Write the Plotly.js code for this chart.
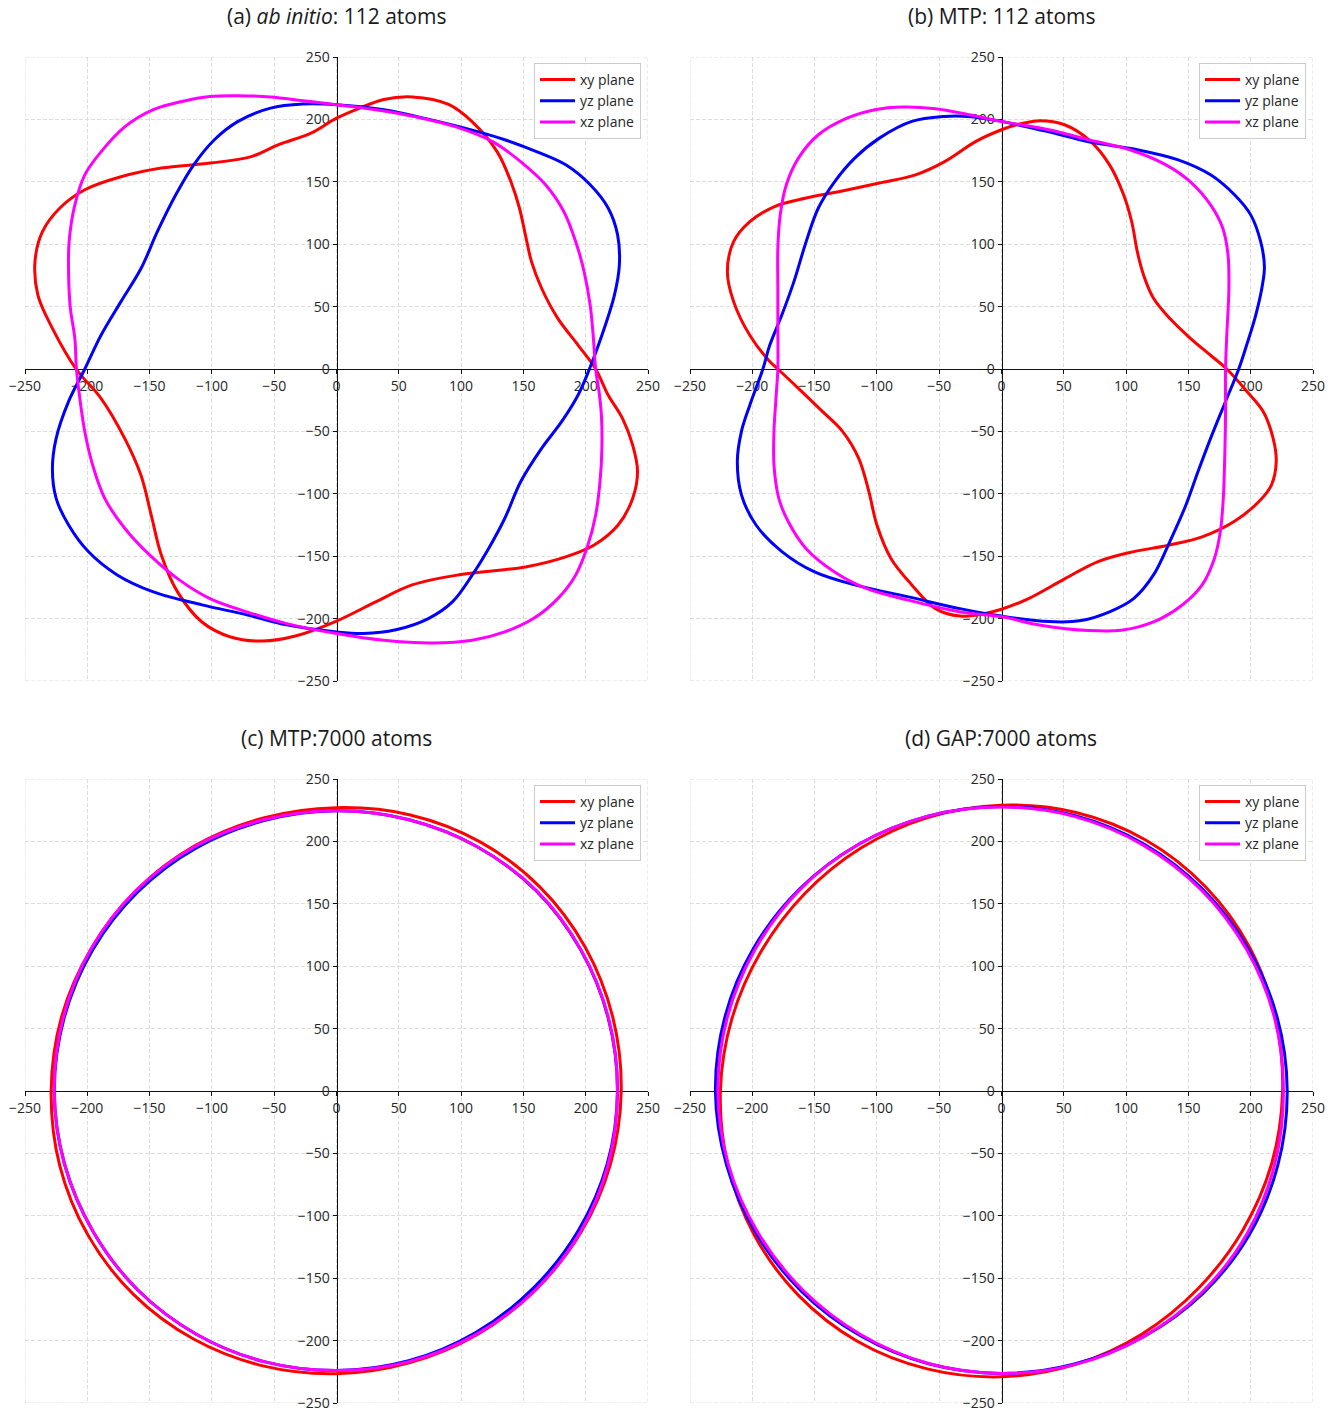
<!DOCTYPE html>
<html>
<head>
<meta charset="utf-8">
<script src="https://cdn.plot.ly/plotly-3.0.1.min.js"></script>
<style>
  html, body { margin: 0; padding: 0; background: #ffffff; }
  #chart { width: 1343px; height: 1412px; }
</style>
</head>
<body>
<div id="chart"></div>
<script>
// Panel titles and legend labels
const panelTitles = [
  '(a) <i>ab initio</i>: 112 atoms',
  '(b) MTP: 112 atoms',
  '(c) MTP:7000 atoms',
  '(d) GAP:7000 atoms'
];
const planeNames = ['xy plane', 'yz plane', 'xz plane'];
const planeColors = ['#ff0000', '#0000ff', '#ff00ff'];
const tickValues = [-250, -200, -150, -100, -50, 0, 50, 100, 150, 200, 250];

// (a) ab initio, 112 atoms: closed contours (x, y)
const abXyX = [208, 194, 177.6, 164.6, 156.5, 151.6, 146.8, 140, 129, 109, 90, 61, 38, 18.5, 0, -20.5, -46, -69, -101.6, -140.6, -173, -202, -222, -236, -242, -239.6, -228, -209, -189, -170, -157, -148.7, -140.6, -127.6, -108, -85, -59, -33, 0, 31.5, 60.7, 99.7, 151.6, 184, 206.8, 226, 237.7, 241.6, 237.7, 229.5, 218, 208];
const abXyY = [0, 19, 40.6, 64.7, 86, 107.5, 129, 150, 174, 198, 212, 218, 216, 209, 201, 189, 180, 170, 165, 161, 154, 143.6, 129, 110, 86, 59, 32.6, 0, -23.5, -55.6, -85, -117, -149, -178.6, -202.7, -214.7, -218, -214, -202, -186.6, -173, -164.7, -158.6, -150.5, -141, -125, -103.7, -82, -61, -39.6, -20.9, 0];
const abYzX = [203, 213, 223, 227, 225.6, 218, 203.6, 184, 161, 135, 103, 70, 38, 0, -27, -53, -79, -98, -114.6, -129, -143.8, -156.8, -173, -189, -202, -215, -225, -228, -225, -215, -199, -176, -147, -108, -72, -40, 0, 21.7, 47.7, 73.7, 93, 109, 122, 135, 148, 164.6, 180.8, 193.8, 203];
const abYzY = [0, 27, 59, 83, 107.5, 129, 147.6, 163.6, 174, 183.7, 193, 201, 207.8, 211.8, 212.3, 209, 198.4, 183.7, 163.6, 139.6, 110, 80.7, 54, 27, 0, -26, -55.6, -79.7, -103.7, -125, -146.5, -165, -178.6, -189, -197, -205, -210.7, -212, -209, -200, -186.6, -165, -144, -119.8, -90, -63.6, -42, -21, 0];
const abXzX = [208, 206, 203.6, 198.7, 192, 182.5, 167.8, 148, 125.6, 96, 64, 31.5, 0, -27, -53, -79, -101.6, -124, -147, -170, -189, -202, -210, -214.6, -215, -213.6, -210, -208.7, -206, -202, -195.7, -186, -169.8, -150, -127.6, -101.6, -72, -40, 0, 38, 77, 109, 135, 158, 177.6, 192, 201.8, 208, 211.5, 213, 212.6, 210.7, 208];
const abXzY = [0, 27, 51, 78, 102, 126, 147.6, 166, 182, 194, 202, 207.8, 211.8, 215, 218, 219, 218.4, 214.4, 207.8, 194, 174, 155.6, 131.5, 102, 75.4, 48.7, 24.6, 0, -23.5, -50.3, -77, -103.7, -127.8, -149, -168, -184, -194.6, -204, -212, -217.4, -219.5, -217.4, -210.7, -200, -184, -165, -141, -117, -90, -63.6, -37, -18, 0];

// (b) MTP, 112 atoms: closed contours (x, y)
const mtpXyX = [180.8, 167.8, 151.6, 135, 122, 114, 109, 104.5, 98, 86.7, 70, 50.6, 31.2, 12, 0, -20.5, -46, -69, -98, -130.8, -156.8, -182.6, -202, -215, -220, -215, -202, -186, -179.5, -163, -143.8, -127.6, -114.6, -106.5, -100, -88.6, -72, -53, -33.4, -14, 0, 21.7, 51, 77, 103, 135, 161, 187, 206.8, 216.6, 220.5, 218, 210, 197, 180.8];
const mtpXyY = [0, 11, 24.6, 40.6, 56.7, 75.4, 94, 118, 139.6, 163.6, 183.7, 195.7, 199, 195.7, 191.7, 182.4, 166, 155.6, 149, 142, 137, 130, 118, 102, 78, 54, 27, 6, 0, -15.5, -34, -50, -71.7, -98, -125, -152, -173, -192, -198, -196, -192.5, -184, -168, -154.5, -147, -141, -134.5, -122, -106, -93, -74, -55.6, -34, -18, 0];
const mtpYzX = [190.4, 197, 204, 209.5, 211, 208, 200, 187, 167.8, 141.8, 109, 70, 38, 0, -27, -46, -72, -98, -117.8, -134, -147, -156.8, -166.6, -176.4, -186, -191.5, -202, -208.7, -212, -208.7, -197, -176, -150, -117.8, -75.6, -33.4, 0, 38, 64, 86.7, 106, 122, 135, 148, 157.8, 167.8, 179, 190.4];
const mtpYzY = [0, 20, 43, 68, 82, 102, 123.5, 139.6, 155.6, 167.6, 175.7, 182, 190, 198.4, 202.4, 202.4, 198.4, 185, 169, 150, 129, 102, 70, 43, 19, 0, -29, -50, -74, -100.8, -125, -146.5, -162.6, -173, -182.4, -192, -198, -202.4, -201.6, -194.6, -184, -165, -138.5, -109, -82, -55.6, -28, 0];
const mtpXzX = [179.8, 180.8, 182.5, 181.8, 177.6, 167.8, 151.6, 132, 103, 70, 38, 0, -27, -53, -79, -101.6, -124, -147, -163, -172.7, -177.6, -179.5, -179.5, -179.5, -179.5, -181, -182.6, -182.6, -178.7, -171, -156.8, -134, -108, -75.6, -33.4, 0, 31.5, 70, 96, 122, 144.8, 161, 170.8, 175.6, 178, 179, 179.8, 179.8];
const mtpXzY = [0, 27, 64.7, 91.4, 112.8, 131.5, 150, 163.6, 175.7, 183.7, 191.7, 198.4, 204, 208.6, 210, 207.8, 201, 187.7, 169, 147.6, 123.5, 96.8, 64.7, 32.6, 0, -23.5, -50, -77, -103.7, -122.6, -144, -162.6, -176, -185, -194.6, -198.6, -205.3, -209.6, -209.4, -202.7, -189.3, -173, -152, -130.5, -103.7, -77, -37, 0];

// (c), (d) 7000 atoms: contour radius sampled every 15 degrees
const sampleAngles = [0, 15, 30, 45, 60, 75, 90, 105, 120, 135, 150, 165, 180, 195, 210, 225, 240, 255, 270, 285, 300, 315, 330, 345];
const mtp7kXyR = [228.5, 229.5, 230.5, 231, 230.5, 229, 227, 226.5, 227, 227.3, 227.5, 228.5, 229, 230, 230.5, 230.5, 229.5, 228, 226.5, 225.5, 225.5, 225.6, 226.5, 227.5];
const mtp7kYzR = [225.5, 225.8, 226.3, 226.8, 226, 225, 224.5, 224.3, 225, 225.6, 226, 226.3, 226.5, 226, 225.5, 225.5, 225, 224.5, 224, 223.8, 223.5, 223.4, 224, 225];
const mtp7kXzR = [225.5, 226, 226.5, 227, 226, 225, 224.5, 225, 226.5, 227.3, 227.5, 227, 226.5, 226, 225.5, 225.5, 225, 224.5, 224, 224.5, 225, 225.6, 226, 225.8];
const gap7kXyR = [225.6, 227.5, 230, 231.5, 232, 231, 229, 227, 225, 223.5, 223, 224, 225.6, 227.5, 229.5, 231, 231.5, 230.5, 229, 227, 225, 223.5, 223.5, 224.5];
const gap7kYzR = [229.3, 229, 228.5, 228.5, 228.5, 228.3, 228, 228, 228.5, 229, 229.5, 229.8, 229.6, 228.5, 227.5, 227, 226.5, 226.3, 226.3, 226.5, 227.5, 229, 229.8, 229.6];
const gap7kXzR = [226.3, 226.8, 227, 227.3, 227.5, 227.6, 227.6, 228, 228.5, 228.5, 228, 227.8, 227.6, 227, 226, 225.5, 225.5, 226, 226.3, 227, 227.5, 227.8, 227.8, 227];

function polarToXY(angles, radii) {
  const x = [], y = [];
  angles.forEach((a, i) => {
    const t = a * Math.PI / 180;
    x.push(radii[i] * Math.cos(t));
    y.push(radii[i] * Math.sin(t));
  });
  x.push(x[0]); y.push(y[0]);
  return { x, y };
}

const panels = [
  [[abXyX, abXyY], [abYzX, abYzY], [abXzX, abXzY]],
  [[mtpXyX, mtpXyY], [mtpYzX, mtpYzY], [mtpXzX, mtpXzY]],
  [mtp7kXyR, mtp7kYzR, mtp7kXzR].map(r => { const p = polarToXY(sampleAngles, r); return [p.x, p.y]; }),
  [gap7kXyR, gap7kYzR, gap7kXzR].map(r => { const p = polarToXY(sampleAngles, r); return [p.x, p.y]; })
];

const W = 1343, H = 1412;
// Plot areas in pixels: [left, right, top, bottom]
const boxes = [
  [25, 648, 57, 681],
  [690, 1313, 57, 681],
  [25, 648, 779, 1403],
  [690, 1313, 779, 1403]
];

const FONT = '"Open Sans", Lato, sans-serif';
const GRID = '#d9d9d9';
const GRIDDASH = '4px,2px';
const traces = [];
const layout = {
  width: W, height: H,
  margin: { l: 0, r: 0, t: 0, b: 0 },
  paper_bgcolor: '#ffffff',
  plot_bgcolor: '#ffffff',
  font: { family: FONT, size: 14, color: '#262626' },
  annotations: [],
  shapes: [],
  showlegend: true
};

panels.forEach((curves, p) => {
  const suffix = p === 0 ? '' : String(p + 1);
  const legendId = 'legend' + suffix;
  curves.forEach((c, k) => {
    traces.push({
      type: 'scatter', mode: 'lines',
      x: c[0], y: c[1],
      xaxis: 'x' + suffix, yaxis: 'y' + suffix,
      name: planeNames[k],
      legend: legendId,
      line: { color: planeColors[k], width: 3, shape: 'spline', smoothing: 1 }
    });
  });
  const [l, r, t, b] = boxes[p];
  const xd = [l / W, r / W];
  const yd = [1 - b / H, 1 - t / H];
  const common = {
    range: [-250, 250],
    tickmode: 'array', tickvals: tickValues,
    showgrid: true, gridcolor: GRID, griddash: GRIDDASH, gridwidth: 0.9,
    zeroline: false,
    showline: true, linecolor: '#111111', linewidth: 1,
    ticks: 'outside', ticklen: 4, tickwidth: 1, tickcolor: '#111111',
    tickfont: { family: FONT, size: 14, color: '#262626' },
    anchor: 'free', fixedrange: true, layer: 'below traces'
  };
  layout['xaxis' + suffix] = Object.assign({}, common, {
    domain: xd, position: (yd[0] + yd[1]) / 2, side: 'bottom'
  });
  layout['yaxis' + suffix] = Object.assign({}, common, {
    domain: yd, position: (xd[0] + xd[1]) / 2, side: 'left'
  });
  // dashed grid lines on the outer ±250 edges
  layout.shapes.push({
    type: 'rect', xref: 'x' + suffix, yref: 'y' + suffix,
    x0: -250, x1: 250, y0: -250, y1: 250,
    line: { color: GRID, width: 0.9, dash: GRIDDASH },
    fillcolor: 'rgba(0,0,0,0)', layer: 'below'
  });
  layout[legendId] = {
    x: (r - 7) / W, xanchor: 'right',
    y: 1 - (t + 6) / H, yanchor: 'top',
    bgcolor: 'rgba(255,255,255,0.85)',
    bordercolor: '#cccccc', borderwidth: 1,
    font: { family: FONT, size: 14, color: '#262626' },
    itemwidth: 35,
    tracegroupgap: 0
  };
  layout.annotations.push({
    text: panelTitles[p],
    xref: 'paper', yref: 'paper',
    x: (l + r) / 2 / W, xanchor: 'center',
    y: 1 - (t - 41) / H, yanchor: 'middle',
    showarrow: false,
    font: { family: FONT, size: 21, color: '#1a1a1a' }
  });
});

Plotly.newPlot('chart', traces, layout, { displayModeBar: false, staticPlot: true });
</script>
</body>
</html>
